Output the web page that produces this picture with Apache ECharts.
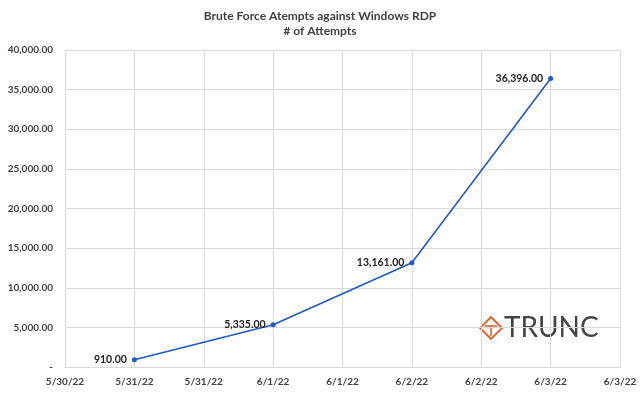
<!DOCTYPE html>
<html><head><meta charset="utf-8">
<script src="https://cdn.jsdelivr.net/npm/echarts@6/dist/echarts.min.js"></script>
<style>html,body{margin:0;padding:0;background:#fff}#c{width:640px;height:394px}</style>
</head><body><div id="c"></div>
<script>
const titleLines = ["Brute Force Atempts against Windows RDP", "# of Attempts"];
const tickLabels = ["5/30/22","5/31/22","5/31/22","6/1/22","6/1/22","6/2/22","6/2/22","6/3/22","6/3/22"];
const pointTicks = [1, 3, 5, 7];
const attempts = [910, 5335, 13161, 36396];
const yMax = 40000, yStep = 5000;

const fmt = v => v === 0 ? "-" : v.toLocaleString("en-US",{minimumFractionDigits:2,maximumFractionDigits:2});
const F = "Lato, 'Open Sans', sans-serif";
const chart = echarts.init(document.getElementById('c'));
chart.setOption({
  animation:false,
  title:{text:titleLines.join("\n"),left:'center',top:4,
    textStyle:{fontFamily:F,fontSize:12,fontWeight:'bold',color:'#404040',lineHeight:15}},
  grid:{left:65,right:20,top:50,bottom:27,containLabel:false},
  xAxis:{type:'value',min:0,max:tickLabels.length-1,interval:1,
    axisLine:{show:true,lineStyle:{color:'#d9d9d9'}},axisTick:{show:false},
    splitLine:{show:true,lineStyle:{color:'#d9d9d9'}},
    axisLabel:{formatter:v=>tickLabels[v]||'',fontFamily:F,fontSize:10,fontWeight:'bold',color:'#404040',margin:10}},
  yAxis:{type:'value',min:0,max:yMax,interval:yStep,
    axisLine:{show:false},axisTick:{show:false},
    splitLine:{show:true,lineStyle:{color:'#d9d9d9'}},
    axisLabel:{formatter:fmt,fontFamily:F,fontSize:10,fontWeight:'bold',color:'#404040',margin:12}},
  series:[{type:'line',data:pointTicks.map((t,i)=>[t,attempts[i]]),
    symbol:'circle',symbolSize:5,
    lineStyle:{color:'#1f5bc4',width:1.6},itemStyle:{color:'#1f5bc4'},
    label:{show:true,position:'left',distance:5,formatter:p=>fmt(p.value[1]),
      fontFamily:F,fontSize:10.5,fontWeight:'bold',color:'#222'}}],
  graphic:[
    {type:'polygon',shape:{points:[[491,317],[502,328],[491,339],[480,328]]},
      style:{fill:'none',stroke:'#e0602c',lineWidth:1.8}},
    {type:'polyline',shape:{points:[[485,326],[497,326]]},style:{stroke:'#e0602c',lineWidth:1.6,fill:'none'}},
    {type:'polyline',shape:{points:[[491,326],[491,336]]},style:{stroke:'#e0602c',lineWidth:1.6,fill:'none'}},
    {type:'text',left:504,top:314,style:{text:'TRUNC',font:'400 28px Lato, "Open Sans", sans-serif',fill:'#454545'}}
  ]
});
</script></body></html>
